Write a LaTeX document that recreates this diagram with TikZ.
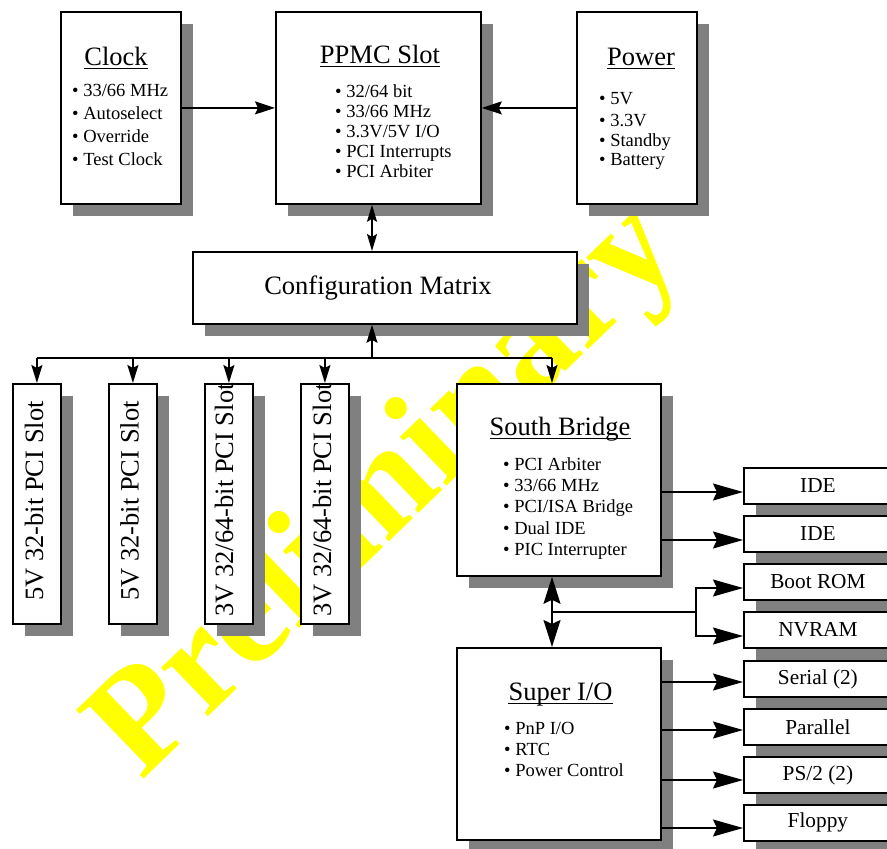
\documentclass[tikz,border=0pt]{standalone}
\usepackage{fontspec}
\setmainfont{Liberation Serif}
\usetikzlibrary{arrows.meta,shadows}
\definecolor{shadowgray}{HTML}{808080}
\definecolor{wmyellow}{HTML}{FFFF00}
\begin{document}
\begin{tikzpicture}[x=1pt,y=-1pt,
  box/.style={draw, line width=1.8pt, fill=white, inner sep=0pt, anchor=north west,
    drop shadow={shadow xshift=12pt, shadow yshift=-12pt, fill=shadowgray, opacity=1}},
  ttl/.style={inner sep=0pt, anchor=base, font=\fontsize{26.5}{30}\selectfont},
  bul/.style={inner sep=0pt, anchor=base west, font=\fontsize{18.5}{22}\selectfont},
  slottxt/.style={inner sep=0pt, anchor=base, rotate=90, font=\fontsize{26.5}{30}\selectfont},
  smalltxt/.style={font=\fontsize{21.3}{24}\selectfont},
  ln/.style={line width=1.6pt},
  arrM/.style={ln, -{Stealth[length=20pt,width=13pt,inset=3pt]}},
  arrS/.style={ln, -{Stealth[length=18pt,width=11pt,inset=3pt]}},
  darrS/.style={ln, {Stealth[length=17pt,width=10pt,inset=3pt]}-{Stealth[length=17pt,width=10pt,inset=3pt]}},
  arrL/.style={ln, -{Stealth[length=30pt,width=17pt,inset=4pt]}},
  darrL/.style={ln, {Stealth[length=27pt,width=17pt,inset=4pt]}-{Stealth[length=27pt,width=17pt,inset=4pt]}},
  uline/.style={line width=1.3pt},
  wm/.style={inner sep=0pt, text=wmyellow, font=\fontsize{147}{150}\selectfont\bfseries}
]
\useasboundingbox (0,0) rectangle (887,849);
\clip (0,0) rectangle (887,849);

% watermark
\node[wm, rotate=44, anchor=base west] (wmark) at (141,782) {Preliminary};

% top boxes
\node[box, minimum width=120pt, minimum height=192pt] (clock) at (60,11) {};
\node[box, minimum width=205pt, minimum height=192pt] (ppmc) at (275,11) {};
\node[box, minimum width=120pt, minimum height=192pt] (power) at (576,11) {};

\node[ttl] (clockT) at (116,65) {Clock};
\draw[uline] ([yshift=-3.3pt]clockT.base west) -- ([yshift=-3.3pt]clockT.base east);
\node[bul] (clk1) at (72,96.5) {\textbullet\ 33/66 MHz};
\node[bul] (clk2) at (72,119.5) {\textbullet\ Autoselect};
\node[bul] (clk3) at (72,142.5) {\textbullet\ Override};
\node[bul] (clk4) at (72,165.5) {\textbullet\ Test Clock};

\node[ttl] (ppmcT) at (380,63) {PPMC Slot};
\draw[uline] ([yshift=-3.3pt]ppmcT.base west) -- ([yshift=-3.3pt]ppmcT.base east);
\node[bul] (pp1) at (335,97.3) {\textbullet\ 32/64 bit};
\node[bul] (pp2) at (335,117.5) {\textbullet\ 33/66 MHz};
\node[bul] (pp3) at (335,137.5) {\textbullet\ 3.3V/5V I/O};
\node[bul] (pp4) at (335,157.5) {\textbullet\ PCI Interrupts};
\node[bul] (pp5) at (335,177.5) {\textbullet\ PCI Arbiter};

\node[ttl] (powerT) at (641,65) {Power};
\draw[uline] ([yshift=-3.3pt]powerT.base west) -- ([yshift=-3.3pt]powerT.base east);
\node[bul] (pw1) at (599,104) {\textbullet\ 5V};
\node[bul] (pw2) at (599,126) {\textbullet\ 3.3V};
\node[bul] (pw3) at (599,146) {\textbullet\ Standby};
\node[bul] (pw4) at (599,165.5) {\textbullet\ Battery};

% configuration matrix
\node[box, minimum width=384pt, minimum height=72pt] (cm) at (192,251) {};
\node[ttl] (cmT) at (378,294) {Configuration Matrix};

% PCI slots
\node[box, minimum width=48pt, minimum height=240pt] (slot1) at (12,383) {};
\node[box, minimum width=48pt, minimum height=240pt] (slot2) at (108,383) {};
\node[box, minimum width=48pt, minimum height=240pt] (slot3) at (204,383) {};
\node[box, minimum width=48pt, minimum height=240pt] (slot4) at (300,383) {};
\node[slottxt] (s1T) at (43,501) {5V 32-bit PCI Slot};
\node[slottxt] (s2T) at (138.5,501) {5V 32-bit PCI Slot};
\node[slottxt] (s3T) at (233,500) {3V 32/64-bit PCI Slot};
\node[slottxt] (s4T) at (331,500) {3V 32/64-bit PCI Slot};

% south bridge
\node[box, minimum width=204pt, minimum height=192pt] (sb) at (456,383) {};
\node[ttl] (sbT) at (560,435) {South Bridge};
\draw[uline] ([yshift=-3.3pt]sbT.base west) -- ([yshift=-3.3pt]sbT.base east);
\node[bul] (sb1) at (503,470) {\textbullet\ PCI Arbiter};
\node[bul] (sb2) at (503,491.5) {\textbullet\ 33/66 MHz};
\node[bul] (sb3) at (503,512.8) {\textbullet\ PCI/ISA Bridge};
\node[bul] (sb4) at (503,534.2) {\textbullet\ Dual IDE};
\node[bul] (sb5) at (503,555.6) {\textbullet\ PIC Interrupter};

% super I/O
\node[box, minimum width=204pt, minimum height=192pt] (sio) at (456,647) {};
\node[ttl] (sioT) at (560.5,700) {Super I/O};
\draw[uline] ([yshift=-3.3pt]sioT.base west) -- ([yshift=-3.3pt]sioT.base east);
\node[bul] (si1) at (504,734) {\textbullet\ PnP I/O};
\node[bul] (si2) at (504,755.3) {\textbullet\ RTC};
\node[bul] (si3) at (504,776.6) {\textbullet\ Power Control};

% right side small boxes
\node[box, minimum width=148pt, minimum height=36pt] (ide1) at (743,467) {};
\node[box, minimum width=148pt, minimum height=36pt] (ide2) at (743,515) {};
\node[box, minimum width=148pt, minimum height=36pt] (boot) at (743,563) {};
\node[box, minimum width=148pt, minimum height=36pt] (nvram) at (743,611) {};
\node[box, minimum width=148pt, minimum height=36pt] (serial) at (743,660) {};
\node[box, minimum width=148pt, minimum height=36pt] (par) at (743,708) {};
\node[box, minimum width=148pt, minimum height=36pt] (ps2) at (743,756) {};
\node[box, minimum width=148pt, minimum height=36pt] (flop) at (743,804) {};
\node[smalltxt] at (ide1.center) {IDE};
\node[smalltxt] at (ide2.center) {IDE};
\node[smalltxt] at (boot.center) {Boot ROM};
\node[smalltxt] at (nvram.center) {NVRAM};
\node[smalltxt] at (serial.center) {Serial (2)};
\node[smalltxt] at (par.center) {Parallel};
\node[smalltxt] at (ps2.center) {PS/2 (2)};
\node[smalltxt] at (flop.center) {Floppy};

% connectors: top
\draw[arrM] (clock) -- (ppmc);
\draw[arrM] (power) -- (ppmc);
\coordinate (cx) at (372,358);
\coordinate (busR) at (552,358);
\draw[darrS] (cx |- ppmc.south) -- (cx |- cm.north);
\draw[arrS] (cx) -- (cx |- cm.south);
\draw[ln] (slot1.north |- cx) -- (busR);
\draw[arrS] (slot1.north |- cx) -- (slot1.north);
\draw[arrS] (slot2.north |- cx) -- (slot2.north);
\draw[arrS] (slot3.north |- cx) -- (slot3.north);
\draw[arrS] (slot4.north |- cx) -- (slot4.north);
\draw[arrS] (busR) -- (busR |- sb.north);

% south bridge connectors
\draw[arrL] (sb.east |- 0,492) -- (ide1.west |- 0,492);
\draw[arrL] (sb.east |- 0,540) -- (ide2.west |- 0,540);
\draw[darrL] (busR |- sb.south) -- (busR |- sio.north);
\coordinate (jn) at (552,612);
\coordinate (br) at (696,612);
\draw[ln] (jn) -- (br);
\draw[arrL] (br) |- (boot.west |- 0,588);
\draw[arrL] (br) |- (nvram.west |- 0,636);

% super I/O connectors
\draw[arrL] (sio.east |- 0,682) -- (serial.west |- 0,682);
\draw[arrL] (sio.east |- 0,730) -- (par.west |- 0,730);
\draw[arrL] (sio.east |- 0,780) -- (ps2.west |- 0,780);
\draw[arrL] (sio.east |- 0,828) -- (flop.west |- 0,828);
\end{tikzpicture}
\end{document}
